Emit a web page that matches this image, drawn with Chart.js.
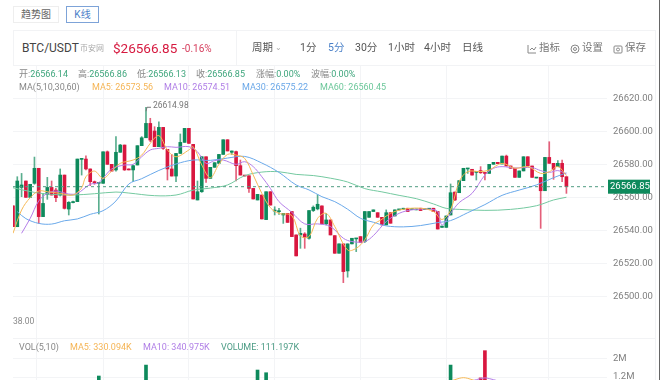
<!DOCTYPE html>
<html>
<head>
<meta charset="utf-8">
<script src="https://cdn.jsdelivr.net/npm/chart.js@4"></script>
<style>
body { margin: 0; width: 660px; height: 380px; overflow: hidden; background: #fff; font-family: Roboto, "Noto Sans CJK SC", sans-serif; position: relative; }
.t { position: absolute; white-space: nowrap; line-height: 12px; }
.tab { position: absolute; box-sizing: border-box; top: 6px; height: 17px; font-size: 10px; line-height: 15px; text-align: center; color: #666; border: 1px solid #eee; }
.line { position: absolute; background: #f2f3f5; }
.per { font-size: 10.5px; color: #555; top: 42px; }
.info { font-size: 9px; color: #888; top: 68px; }
.info b, .ma b { font-weight: 400; color: #3fa67d; }
.ma { font-size: 9px; color: #888; top: 81px; }
.vol { font-size: 9px; color: #888; top: 341px; }
canvas { position: absolute; left: 0; }
svg { position: absolute; }
</style>
</head>
<body>
<div class="tab" style="left:13px;width:46px">趋势图</div>
<div class="tab" style="left:66px;width:33px;color:#4a80c8;border-color:#7da3d8">K线</div>

<canvas id="priceChart" width="660" height="273" style="top:65px"></canvas>
<canvas id="volChart" width="660" height="42" style="top:338px"></canvas>

<div class="line" style="left:13px;top:30px;width:642px;height:1px"></div>
<div class="line" style="left:236px;top:30px;width:1px;height:35px"></div>
<div class="line" style="left:13px;top:30px;width:1px;height:35px"></div>
<div class="line" style="left:655px;top:30px;width:1px;height:350px"></div>
<div class="line" style="left:13px;top:65px;width:642px;height:1px"></div>
<div class="line" style="left:13px;top:338px;width:642px;height:1px"></div>
<div class="line" style="left:659px;top:0;width:1px;height:380px;background:#666"></div>

<div class="t" style="left:22px;top:42px;font-size:12px;color:#444">BTC/USDT</div>
<div class="t" style="left:80px;top:43px;font-size:8px;color:#aaa">币安网</div>
<div class="t" style="left:113px;top:42px;font-size:13.5px;color:#d6193f">$26566.85</div>
<div class="t" style="left:182px;top:43px;font-size:10px;color:#d6405f">-0.16%</div>

<div class="t per" style="left:252px">周期</div>
<div class="t per" style="left:275px;font-size:8px;color:#aaa">⌄</div>
<div class="t per" style="left:300px">1分</div>
<div class="t per" style="left:328px;color:#4a80c8">5分</div>
<div class="t per" style="left:355px">30分</div>
<div class="t per" style="left:388px">1小时</div>
<div class="t per" style="left:424px">4小时</div>
<div class="t per" style="left:462px">日线</div>

<svg style="left:527px;top:44px" width="10" height="10" fill="none" stroke="#888"><path d="M1 1V9H9M3 6L5 4L7 6L9 3"/></svg>
<div class="t per" style="left:539px;color:#777">指标</div>
<svg style="left:570px;top:44px" width="10" height="10" fill="none" stroke="#888"><circle cx="5" cy="5" r="4"/><circle cx="5" cy="5" r="1.5"/></svg>
<div class="t per" style="left:582px;color:#777">设置</div>
<svg style="left:613px;top:44px" width="10" height="10" fill="none" stroke="#888"><rect x="1" y="2" width="8" height="7" rx="1"/><circle cx="5" cy="5.5" r="1.5"/></svg>
<div class="t per" style="left:625px;color:#777">保存</div>

<div class="t info" style="left:19px">开:<b>26566.14</b></div>
<div class="t info" style="left:78px">高:<b>26566.86</b></div>
<div class="t info" style="left:137px">低:<b>26566.13</b></div>
<div class="t info" style="left:196px">收:<b>26566.85</b></div>
<div class="t info" style="left:256px">涨幅:<b>0.00%</b></div>
<div class="t info" style="left:311px">波幅:<b>0.00%</b></div>

<div class="t ma" style="left:19px">MA(5,10,30,60)</div>
<div class="t ma" style="left:92px;color:#f5b556">MA5: 26573.56</div>
<div class="t ma" style="left:164px;color:#b07fe6">MA10: 26574.51</div>
<div class="t ma" style="left:242px;color:#6ba8e8">MA30: 26575.22</div>
<div class="t ma" style="left:320px;color:#6cc79a">MA60: 26560.45</div>

<div class="t" style="left:13px;top:315px;font-size:8.5px;color:#888">38.00</div>
<div class="t vol" style="left:19px">VOL(5,10)</div>
<div class="t vol" style="left:70px;color:#f5b556">MA5: 330.094K</div>
<div class="t vol" style="left:143px;color:#b07fe6">MA10: 340.975K</div>
<div class="t vol" style="left:221px;color:#4c9c85">VOLUME: 111.197K</div>

<script>
// candles, left to right
const opens = [26555.3,26542.6,26566.4,26570.3,26560.4,26568.9,26578,26548.7,26562.2,26566.4,26564.8,26561.8,26573.9,26553.3,26557.2,26557.8,26583.4,26583.6,26577.6,26569.9,26568.9,26568.9,26588,26580.4,26577,26587.7,26592.1,26577.6,26577,26580,26591.7,26596.5,26605.2,26600.6,26591.1,26602.8,26589.5,26577.6,26573.3,26587,26593.7,26602.2,26592.5,26558.8,26563.8,26585,26571.9,26578.6,26581,26586.4,26595.3,26587.7,26588.1,26579.6,26573.7,26573.5,26565.8,26558.8,26561.8,26546.9,26563.8,26552.1,26551.7,26549.7,26550.7,26551.8,26537.6,26537.6,26538.2,26535.6,26552.4,26553.4,26555.2,26544.3,26546.7,26537.2,26526.5,26532.2,26515.8,26532.2,26535.2,26536.6,26533.6,26548.3,26551.8,26551.1,26548.3,26543.7,26551.1,26549.1,26552.8,26553.2,26553.8,26553,26552.8,26553.8,26553,26553.2,26553.8,26551.8,26542.2,26542.2,26549.7,26563.6,26563.2,26570.5,26577.6,26577.4,26575.5,26576.6,26575.3,26574.9,26580.4,26581.6,26580.6,26585.4,26579.4,26578,26572.5,26576.4,26585,26579.4,26572.1,26572.5,26564.4,26584.6,26581,26579,26581,26572.9];
const closes = [26542.6,26570.3,26567.9,26560.4,26568.3,26578,26548.7,26556.7,26566.4,26561.8,26560.2,26573.9,26553.7,26557.4,26557.8,26583.6,26583.8,26577.6,26569.9,26569.1,26569.5,26588,26580.4,26576.3,26587.7,26592.1,26577,26577,26579.6,26591.7,26596.5,26605.2,26595.1,26591.1,26602.8,26590.1,26577.6,26573.3,26587,26593.7,26602.2,26593.1,26559.4,26563.8,26585,26571.9,26578.6,26581.4,26586.4,26595.3,26588.5,26588.5,26579.6,26573.9,26573.3,26565.8,26559.4,26562.2,26547.3,26563.8,26555.7,26552.7,26552.1,26550.7,26545.2,26536.6,26524.9,26538.6,26536.2,26552.4,26554.4,26556.2,26544.3,26546.7,26537.6,26526.5,26532.2,26515.4,26532.2,26535.6,26535.6,26533,26551.8,26551.8,26552.8,26548.3,26543.7,26551.1,26544.7,26552.8,26553.2,26553.8,26551.8,26553.4,26553.2,26552.4,26553.4,26553.6,26551.8,26541.2,26543,26549.1,26563.2,26558.8,26570.5,26578,26578,26573.9,26576,26575.3,26574.9,26580.4,26581.6,26580.8,26585.4,26579.4,26578,26572.5,26576.4,26585,26579.4,26572.5,26572.5,26564.4,26584.6,26581,26577.4,26581,26572.9,26566.85];
const highs = [26555.3,26572.9,26574.9,26570.3,26568.3,26584.8,26578,26562.8,26572.5,26570.3,26565.8,26577.6,26573.9,26557.8,26558.2,26583.6,26583.8,26585.6,26577.6,26570.3,26569.5,26588,26588.5,26580.4,26597.2,26592.5,26592.1,26577.6,26580,26591.7,26597.2,26614.98,26608.3,26603.2,26606.2,26602.8,26589.5,26586.4,26587,26598.8,26602.2,26602.2,26592.5,26570.3,26585,26585,26578.6,26581.4,26586.4,26595.3,26595.3,26588.5,26588.5,26583,26573.7,26573.5,26565.8,26562.2,26561.8,26563.8,26563.8,26554.7,26553.7,26550.7,26550.7,26551.8,26537.6,26541.7,26539,26552.4,26555.2,26561.9,26555.2,26550.7,26546.7,26537.2,26532.2,26532.2,26532.2,26535.6,26535.6,26536.6,26551.8,26551.8,26552.8,26551.1,26548.3,26552.8,26551.1,26552.8,26553.2,26553.8,26553.8,26553.4,26553.2,26553.8,26553.4,26553.6,26553.8,26551.8,26543,26549.1,26568.5,26563.6,26570.5,26578,26578,26577.4,26576,26579,26575.3,26580.4,26581.6,26581.6,26585.4,26586,26579.4,26578,26576.4,26585,26585,26579.4,26572.5,26572.5,26584.6,26594.1,26581,26582.6,26583,26572.9];
const lows = [26542.6,26542.6,26560.8,26560.4,26560.4,26568.3,26544.6,26548.7,26559.2,26561.8,26557.8,26561.2,26553.3,26549.7,26557,26557.8,26573.9,26577,26567.5,26568.3,26550.3,26568.9,26580.4,26576.3,26576.3,26587.7,26576.7,26577,26569.9,26580,26591.7,26596.5,26594.1,26591.1,26591.1,26589.5,26570.9,26573.3,26569.9,26587,26593.7,26593.1,26559.4,26558.8,26563.4,26569.5,26571.9,26578.6,26581,26586.4,26588.5,26586.4,26570.3,26573.9,26573.3,26563.4,26559.4,26558.8,26547.3,26546.9,26555.7,26549.7,26550.1,26544.6,26545.2,26536.6,26524.9,26529.5,26529.5,26535,26551.8,26552.8,26544.3,26543.7,26537.6,26526.5,26526.5,26508.7,26512,26532.2,26527.5,26533,26533,26548.3,26551.8,26548.3,26543.7,26543.7,26544.7,26549.1,26552.8,26553.2,26551.8,26553,26552.8,26552.4,26553,26553.2,26551.8,26541.2,26542.2,26542.2,26549.7,26558.4,26563.2,26570.5,26574.9,26573.9,26570.9,26574.9,26570.9,26574.9,26580.4,26580.8,26580.6,26579.4,26578,26572.5,26572.5,26576.4,26579.4,26572.5,26572.1,26541.6,26564.4,26581,26571.3,26579,26569.9,26562.8];

// moving averages, read at the candle indexes next to them
const ma5Idx = [0,2,4,6,8,11,14,16,17,19,21,23,25,28,30,32,34,36,38,41,42,44,46,48,50,52,54,56,58,60,62,65,67,69,71,73,75,78,80,82,84,86,88,91,95,98,100,102,104,106,109,111,114,117,120,123,125,127,129];
const ma5 = [26538.6,26552.7,26560.2,26564.2,26563.8,26562.8,26561.8,26566.2,26572.9,26576.3,26571.9,26576.3,26581,26583,26586,26593.1,26597.8,26589.1,26585,26589.1,26591.1,26580,26572.3,26580.4,26586.4,26586,26584,26573.9,26562.8,26554.1,26550.7,26549.3,26537,26536.6,26547.7,26550.7,26542.7,26528.5,26529.5,26534.6,26543.7,26547.1,26550.7,26553.2,26553.8,26551.8,26547,26552.7,26569.9,26576,26576,26577,26581,26578,26579,26574.9,26575.9,26579,26573.56];
const ma10Idx = [2,4,6,8,10,13,15,18,20,23,26,28,30,32,34,36,38,41,43,45,47,49,52,54,56,58,60,62,65,68,71,74,77,79,82,84,87,90,93,97,99,100,102,104,107,110,112,114,117,121,123,125,127,129];
const ma10 = [26538.6,26547.6,26558.2,26562.8,26564.2,26562.4,26562.8,26568.3,26569.3,26577.6,26580,26580.4,26585,26589.1,26590.1,26591.1,26590.7,26591.1,26588,26581,26582.6,26583,26580.4,26582,26579,26572.9,26565.8,26557.8,26551.3,26544.3,26544.3,26542.7,26535.6,26533.6,26533.6,26537.2,26545.7,26550.7,26552.8,26553.2,26551.8,26543.6,26550.7,26557.2,26562.8,26573.9,26578,26579,26578.2,26578.4,26576.6,26575.5,26576.6,26574.51];
const ma30Idx = [1,3,6,9,12,15,18,21,24,27,30,34,38,42,46,50,54,58,62,66,69,72,75,78,81,84,87,91,95,99,102,106,110,114,118,122,126,129];
const ma30 = [26551.7,26547.5,26544.6,26544.2,26546.2,26547.3,26550.1,26552.3,26558.2,26568.5,26571.7,26576.7,26580.6,26583,26582.8,26584.2,26585.2,26581.2,26575.5,26567.9,26564.9,26560.8,26557.8,26553.2,26547.7,26545.3,26543.1,26542.5,26543.3,26545.1,26546.3,26551.1,26556,26561.6,26564.8,26567.9,26572.3,26575.22];
const ma60Idx = [0,5,9,14,19,24,27,33,38,42,46,50,54,58,62,66,70,74,78,82,86,90,94,98,101,104,110,116,122,126,129];
const ma60 = [26566.2,26563.4,26562.2,26561.8,26562.6,26563.6,26563,26561.4,26561.8,26564.8,26566,26567.9,26573.5,26575.7,26575.9,26574.3,26573.6,26572,26569.7,26565.7,26563.7,26561.6,26559.6,26556.4,26553.7,26553.1,26552.5,26553.1,26555.3,26558.8,26560.45];

// volume panel, only the bars that stick up above the cropped bottom edge
const volIdx = [20,31,57,59,102,109,110];
const volValues = [1.244,1.73,1.51,1.39,1.73,1.16,2.37];
const volMa5Idx = [102,104,105,106,108];
const volMa5 = [1.02,1.14,1.17,1.14,1.02];
const volMa10Idx = [107,109,110,111,113];
const volMa10 = [1.03,1.13,1.16,1.13,1.03];

const priceTicks = [26500,26520,26540,26560,26580,26600,26620];
const volTicks = [1.2,2];
const gridIdx = [0,11,31,51,71,91,111,138.46];
const lastPrice = 26566.85;
const peakIdx = 31;

const RED = '#d8173f';
const GREEN = '#0e8a5c';
const GRID = '#f3f4f6';
const AXIS_TEXT = '#808080';
const FONT = 'Roboto, sans-serif';

const xScale = {
    type: 'linear',
    min: 0,
    max: 138.46,
    offset: false,
    afterBuildTicks: s => { s.ticks = gridIdx.map(v => ({ value: v })); },
    // no room for the hidden x axis, the plot runs to the canvas bottom
    afterFit: s => { s.height = 0; s.paddingLeft = 0; s.paddingRight = 0; },
    ticks: { display: false },
    grid: { color: GRID, drawTicks: false },
    border: { display: false }
};

function fitY(s) {
    s.width = 53;
    s.paddingTop = 0;
    s.paddingBottom = 0;
}

function pts(idx, vals) {
    return idx.map((x, i) => ({ x: x, y: vals[i] }));
}

function maLine(idx, vals, color) {
    return {
        type: 'line',
        data: pts(idx, vals),
        borderColor: color,
        borderWidth: 1,
        pointRadius: 0,
        tension: 0.35,
        order: 1
    };
}

const candleColors = opens.map((o, i) => closes[i] < o ? RED : GREEN);

const priceLabels = {
    id: 'priceLabels',
    afterDatasetsDraw(chart) {
        const c = chart.ctx;
        const x = chart.scales.x.getPixelForValue(peakIdx);
        const y = chart.scales.y.getPixelForValue(highs[peakIdx]);
        c.save();
        c.strokeStyle = '#777';
        c.beginPath();
        c.moveTo(x, y + 4);
        c.lineTo(x + 1, y);
        c.lineTo(x + 5, y);
        c.stroke();
        c.fillStyle = '#777';
        c.font = '8.5px ' + FONT;
        c.textBaseline = 'middle';
        c.fillText(highs[peakIdx].toFixed(2), x + 7, y - 1);
        const ly = chart.scales.y.getPixelForValue(lastPrice);
        c.fillStyle = GREEN;
        c.fillRect(608, ly - 7, 42, 14);
        c.fillStyle = '#fff';
        c.font = '9.5px ' + FONT;
        c.fillText(lastPrice.toFixed(2), 610, ly);
        c.restore();
    }
};

new Chart(document.getElementById('priceChart'), {
    type: 'bar',
    data: {
        datasets: [
            {
                data: lows.map((l, i) => ({ x: i, y: [l, highs[i]] })),
                backgroundColor: candleColors.map(c => c + 'b0'),
                barThickness: 1,
                grouped: false,
                order: 3
            },
            {
                data: opens.map((o, i) => ({ x: i, y: [o, closes[i]] })),
                backgroundColor: candleColors,
                barThickness: 3,
                minBarLength: 1,
                grouped: false,
                order: 2
            },
            maLine(ma5Idx, ma5, '#f7b955'),
            maLine(ma10Idx, ma10, '#b47ee8'),
            maLine(ma30Idx, ma30, '#6aa9ea'),
            maLine(ma60Idx, ma60, '#74c9a0'),
            {
                type: 'line',
                data: [{ x: 0, y: lastPrice }, { x: 138.46, y: lastPrice }],
                borderColor: '#4f9c82',
                borderWidth: 1,
                borderDash: [3, 3],
                pointRadius: 0,
                order: 0
            }
        ]
    },
    options: {
        responsive: false,
        animation: false,
        events: [],
        layout: { padding: { left: 13, right: 0, top: 0, bottom: 0 } },
        plugins: { legend: { display: false }, tooltip: { enabled: false } },
        scales: {
            x: xScale,
            y: {
                position: 'right',
                min: 26475.15,
                max: 26640.6,
                afterBuildTicks: s => { s.ticks = priceTicks.map(v => ({ value: v })); },
                afterFit: fitY,
                ticks: { color: AXIS_TEXT, font: { size: 9.5, family: FONT }, padding: 6, callback: v => v.toFixed(2) },
                grid: { color: GRID, drawTicks: false },
                border: { display: false }
            }
        }
    },
    plugins: [priceLabels]
});

new Chart(document.getElementById('volChart'), {
    type: 'bar',
    data: {
        datasets: [
            {
                data: pts(volIdx, volValues),
                backgroundColor: volIdx.map(i => candleColors[i]),
                barThickness: 3,
                grouped: false,
                order: 2
            },
            maLine(volMa5Idx, volMa5, '#f7b955'),
            maLine(volMa10Idx, volMa10, '#b47ee8')
        ]
    },
    options: {
        responsive: false,
        animation: false,
        events: [],
        layout: { padding: { left: 13, right: 0, top: 0, bottom: 0 } },
        plugins: { legend: { display: false }, tooltip: { enabled: false } },
        scales: {
            x: xScale,
            y: {
                position: 'right',
                min: 1.067,
                max: 2.933,
                afterBuildTicks: s => { s.ticks = volTicks.map(v => ({ value: v })); },
                afterFit: fitY,
                ticks: { color: AXIS_TEXT, font: { size: 9.5, family: FONT }, padding: 6, callback: v => v + 'M' },
                grid: { color: GRID, drawTicks: false },
                border: { display: false }
            }
        }
    }
});
</script>
</body>
</html>
